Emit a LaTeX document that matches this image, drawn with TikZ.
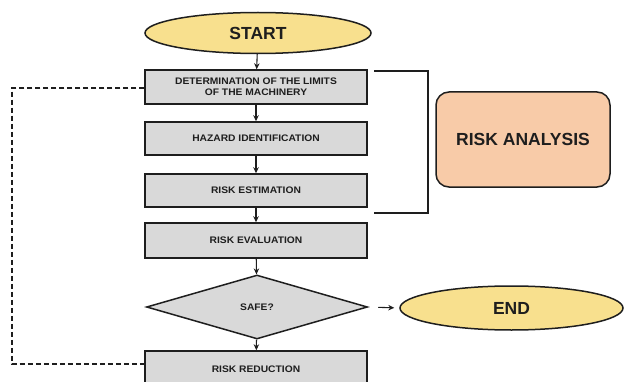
\documentclass[tikz,border=0pt]{standalone}
\usepackage{fontspec}
\setmainfont{Liberation Sans}
\newfontfamily\bxf{Liberation Sans}[FakeStretch=1.08]
\usetikzlibrary{shapes.geometric,arrows.meta}
\definecolor{ygold}{HTML}{F8E08E}
\definecolor{gbox}{HTML}{D9D9D9}
\definecolor{peach}{HTML}{F8CBA8}
\definecolor{ink}{HTML}{1E1E1E}
\tikzset{
  stepbox/.style={draw=ink, line width=1.5pt, fill=gbox, minimum width=222pt, minimum height=34pt, inner sep=0pt, align=center, font=\bxf\fontsize{9.5}{11}\selectfont\bfseries, text=ink},
  term/.style={draw=ink, line width=1.5pt, fill=ygold, ellipse, inner sep=0pt, font=\fontsize{17.5}{20}\selectfont\bfseries, text=ink},
  arr/.style={draw=ink, line width=1.1pt, -{Stealth[length=6pt,width=5.5pt]}},
}
\begin{document}
\begin{tikzpicture}[x=1pt,y=1pt]
\useasboundingbox (0,0) rectangle (629,381);
\clip (0,0) rectangle (629,381);
\node[term, minimum width=226pt, minimum height=41pt] (start) at (258,348) {START};
\node[stepbox] (b1) at (256,294) {DETERMINATION OF THE LIMITS\\OF THE MACHINERY};
\node[stepbox, minimum height=33pt] (b2) at (256,242.5) {HAZARD IDENTIFICATION};
\node[stepbox, minimum height=33pt] (b3) at (256,190.5) {RISK ESTIMATION};
\node[stepbox, minimum height=35pt] (b4) at (256,140.5) {RISK EVALUATION};
\node[draw=ink, line width=1.5pt, fill=gbox, diamond, minimum width=221pt, minimum height=64pt, inner sep=0pt, font=\bxf\fontsize{9.5}{11}\selectfont\bfseries, text=ink] (dia) at (257,74) {SAFE?};
\node[stepbox, minimum height=36pt] (rr) at (256,12) {RISK REDUCTION};
\node[term, minimum width=223pt, minimum height=44pt] (end) at (511.5,73) {END};
\node[draw=ink, line width=1.5pt, fill=peach, rounded corners=13pt, minimum width=174pt, minimum height=95pt, font=\fontsize{17.5}{20}\selectfont\bfseries, text=ink] (ra) at (523,241.5) {RISK ANALYSIS};
\draw[arr] (start) -- (b1);
\draw[arr] (b1) -- (b2);
\draw[arr] (b2) -- (b3);
\draw[arr] (b3) -- (b4);
\draw[arr] (b4) -- (dia);
\draw[arr] (dia) -- (rr);
\draw[arr, shorten <=10pt, shorten >=5pt] (dia.east) -- (end.west);
\coordinate (bt) at (374,310);
\coordinate (bc1) at (428,310);
\coordinate (bc2) at (428,168);
\coordinate (bb) at (374,168);
\draw[ink, line width=1.5pt] (bt) -- (bc1) -- (bc2) -- (bb);
\coordinate (d1) at (12,293);
\coordinate (d2) at (12,17);
\draw[ink, line width=1.5pt, dash pattern=on 5pt off 3pt] (b1.west |- d1) -- (d1) -- (d2) -- (rr.west |- d2);
\end{tikzpicture}
\end{document}
